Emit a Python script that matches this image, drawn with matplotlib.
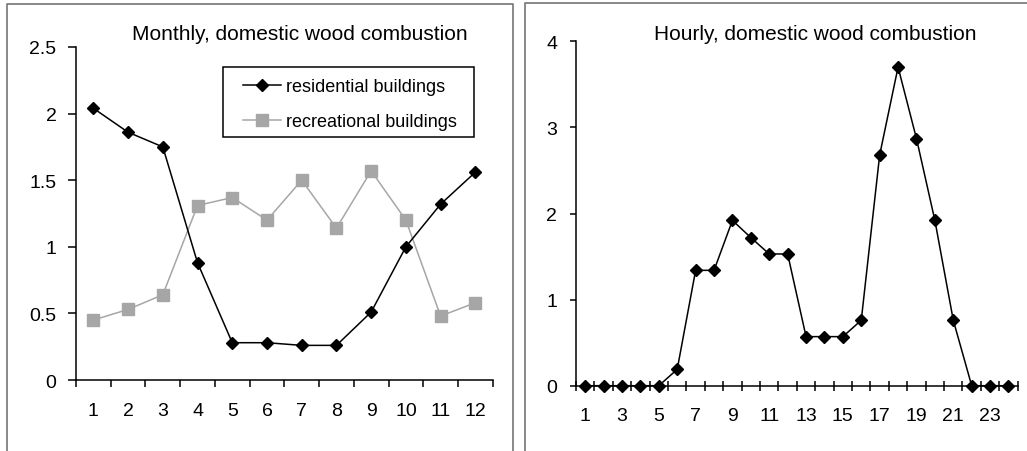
import matplotlib
matplotlib.use("Agg")
import matplotlib.pyplot as plt
from matplotlib.lines import Line2D
from matplotlib.patches import Rectangle
import numpy as np

plt.rcParams['font.family'] = ['Liberation Sans', 'DejaVu Sans']

# Monthly profile of domestic wood combustion
months = list(range(1, 13))
residential = [2.04, 1.86, 1.75, 0.88, 0.28, 0.28, 0.26, 0.26, 0.51, 1.00, 1.32, 1.56]
recreational = [0.45, 0.53, 0.64, 1.31, 1.37, 1.20, 1.50, 1.14, 1.57, 1.20, 0.48, 0.58]
monthly_yticks = [0, 0.5, 1, 1.5, 2, 2.5]
monthly_ylabels = ['0', '0.5', '1', '1.5', '2', '2.5']

# Hourly profile of domestic wood combustion
hours = list(range(1, 25))
hourly = [0, 0, 0, 0, 0, 0.19, 1.34, 1.34, 1.92, 1.72, 1.53, 1.53,
          0.57, 0.57, 0.57, 0.76, 2.68, 3.70, 2.87, 1.92, 0.76, 0, 0, 0]
hourly_yticks = [0, 1, 2, 3, 4]
hourly_xlabels = [str(h) for h in range(1, 24, 2)]

W, H = 1027, 452
fig = plt.figure(figsize=(W / 100, H / 100), dpi=100)


def fx(px):
    return px / W


def fy(py):
    return 1 - py / H


# panel frames
frame_kw = dict(color='#7f7f7f', lw=1.3, transform=fig.transFigure)
fig.add_artist(Line2D([fx(7), fx(7), fx(512.5), fx(512.5)],
                      [fy(460), fy(5), fy(5), fy(460)], **frame_kw))
fig.add_artist(Line2D([fx(525), fx(525), fx(1040)],
                      [fy(460), fy(3.5), fy(3.5)], **frame_kw))

# ---- monthly panel ----
ax1 = fig.add_axes([fx(76), fy(381), fx(492.7 - 76), fy(48) - fy(381)])
ax1.plot(months, residential, color='black', lw=1.1, marker='D', ms=6.5,
         mfc='black', mec='black', label='residential buildings', zorder=3)
ax1.plot(months, recreational, color='#a6a6a6', lw=1.1, marker='s', ms=8.5,
         mfc='#a6a6a6', mec='#a6a6a6', label='recreational buildings', zorder=2)
ax1.set_xlim(0.5, 12.5)
ax1.set_ylim(0, 2.5)
ax1.set_yticks(monthly_yticks)
ax1.set_yticklabels(monthly_ylabels)
ax1.set_xticks(months)
ax1.set_xticklabels([str(m) for m in months])
ax1.set_xticks(np.arange(0.5, 12.6, 1), minor=True)
ax1.tick_params(axis='x', which='major', length=0, pad=16, labelsize=14)
ax1.tick_params(axis='x', which='minor', length=5.2, width=1.1, direction='out')
ax1.tick_params(axis='y', length=5.5, width=1.1, direction='out', pad=8.5, labelsize=14)
for s in ('top', 'right'):
    ax1.spines[s].set_visible(False)
for s in ('left', 'bottom'):
    ax1.spines[s].set_linewidth(1.1)

# legend box with its own frame
ax1.add_patch(Rectangle((0.353, 0.73), 0.602, 0.21, transform=ax1.transAxes,
                        facecolor='white', edgecolor='black', lw=1.1,
                        zorder=4.5, clip_on=False))
leg = ax1.legend(loc='upper left', bbox_to_anchor=(0.401, 0.907), fontsize=13,
                 frameon=False, handlelength=2.1, handletextpad=0.25,
                 labelspacing=1.0, borderpad=0, borderaxespad=0)
leg.set_zorder(5)
fig.text(fx(300), fy(34), 'Monthly, domestic wood combustion', ha='center',
         va='center', fontsize=15)

# ---- hourly panel ----
ax2 = fig.add_axes([fx(576), fy(386.7), fx(1017.7 - 576), fy(42.3) - fy(386.7)])
ax2.plot(hours, hourly, color='black', lw=1.1, marker='D', ms=6.5,
         mfc='black', mec='black', zorder=3, clip_on=False)
ax2.set_xlim(0.5, 24.5)
ax2.set_ylim(0, 4)
ax2.set_yticks(hourly_yticks)
ax2.set_xticks(list(range(1, 24, 2)))
ax2.set_xticklabels(hourly_xlabels)
ax2.set_xticks(np.arange(0.5, 24.6, 1), minor=True)
ax2.tick_params(axis='x', which='major', length=0, pad=15, labelsize=14)
ax2.tick_params(axis='x', which='minor', length=7, width=1.1, direction='inout')
ax2.tick_params(axis='y', length=4.5, width=1.1, direction='out', pad=9, labelsize=14)
for s in ('top', 'right'):
    ax2.spines[s].set_visible(False)
for s in ('left', 'bottom'):
    ax2.spines[s].set_linewidth(1.1)
fig.text(fx(815.5), fy(34), 'Hourly, domestic wood combustion', ha='center',
         va='center', fontsize=15)

fig.savefig('out.png', dpi=100)
